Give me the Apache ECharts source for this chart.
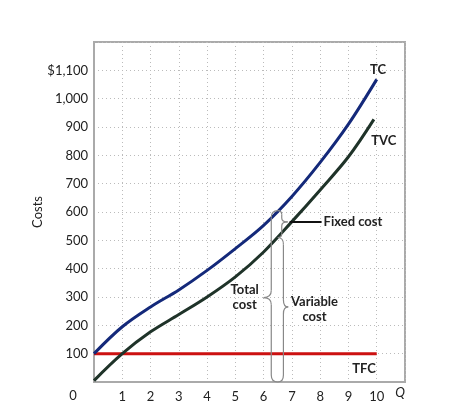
<!DOCTYPE html>
<html>
<head>
    <meta charset="utf-8">
    <title>Costs</title>
    <script type="text/javascript" src="https://cdn.jsdelivr.net/npm/echarts@6/dist/echarts.min.js"></script>
    <style>
        html, body { margin: 0; padding: 0; background: #fff; }
    </style>
</head>
<body>
<div id="main" style="width: 464px;height:419px;"></div>

<script type="text/javascript">
    // data
    var tcQ = [0, 1, 2, 3, 4, 5, 6, 7, 8, 9, 10];
    var tcCost = [100, 195, 265, 325, 394, 471, 553, 655, 775, 910, 1068];
    var tvcQ = [0, 1, 2, 3, 4, 5, 6, 7, 8, 9, 9.9];
    var tvcCost = [5, 100, 177, 238, 300, 371, 459, 566, 678, 795, 927];
    var tfcQ = [0, 10];
    var tfcCost = [100, 100];

    function pairs(xs, ys) {
        return xs.map(function (x, i) { return [x, ys[i]]; });
    }

    var FONT = 'Lato, "Open Sans", sans-serif';
    var chart = echarts.init(document.getElementById('main'));

    var option = {
        animation: false,
        grid: {
            left: 94, right: 59, top: 42, bottom: 37,
            show: true, borderColor: '#aaa', borderWidth: 2
        },
        xAxis: {
            type: 'value', min: 0, max: 11, interval: 1,
            axisLine: { show: true, lineStyle: { color: '#aaa', width: 2 } },
            axisTick: { show: false },
            splitLine: { lineStyle: { type: [1, 3], color: '#bbb' } },
            axisLabel: {
                margin: 8, color: '#222', fontSize: 13, fontFamily: FONT,
                formatter: function (v) { return (v === 0 || v === 11) ? '' : String(v); }
            }
        },
        yAxis: {
            type: 'value', min: 0, max: 1200, interval: 100,
            name: 'Costs', nameLocation: 'middle', nameGap: 50, nameRotate: 90,
            nameMoveOverlap: false,
            nameTextStyle: { color: '#222', fontSize: 13, fontFamily: FONT },
            axisLine: { show: true, lineStyle: { color: '#aaa', width: 2 } },
            axisTick: { show: false },
            splitLine: { lineStyle: { type: [1, 3], color: '#bbb' } },
            axisLabel: {
                margin: 6, color: '#222', fontSize: 13, fontFamily: FONT,
                formatter: function (v) {
                    if (v === 0 || v === 1200) return '';
                    if (v === 1100) return '$1,100';
                    if (v === 1000) return '1,000';
                    return String(v);
                }
            }
        },
        series: [
            {
                name: 'TFC', type: 'line', data: pairs(tfcQ, tfcCost), showSymbol: false,
                lineStyle: { color: '#cc1111', width: 3 }, z: 3
            },
            {
                name: 'TVC', type: 'line', data: pairs(tvcQ, tvcCost), showSymbol: false, smooth: 0.35,
                lineStyle: { color: '#1f3329', width: 3 }, z: 4
            },
            {
                name: 'TC', type: 'line', data: pairs(tcQ, tcCost), showSymbol: false, smooth: 0.35,
                lineStyle: { color: '#14297a', width: 3 }, z: 5
            }
        ]
    };
    chart.setOption(option);

    // annotations placed in data coordinates
    function px(q, v) { return chart.convertToPixel({ gridIndex: 0 }, [q, v]); }

    var BRACE = { fill: null, stroke: '#888', lineWidth: 1.2 };

    function curve(x1, y1, cx, cy, x2, y2) {
        return { type: 'bezierCurve', z: 10, shape: { x1: x1, y1: y1, cpx1: cx, cpy1: cy, x2: x2, y2: y2 }, style: BRACE };
    }
    function seg(x1, y1, x2, y2) {
        return { type: 'line', z: 10, shape: { x1: x1, y1: y1, x2: x2, y2: y2 }, style: BRACE };
    }

    // curly brace: attached at qA, spine at qV, tip at qT
    function braceAt(qA, qV, qT, vTop, vBot, vMid, r) {
        var a = px(qA, vTop)[0], top = px(qA, vTop)[1], bot = px(qA, vBot)[1];
        var vx = px(qV, vMid)[0], t = px(qT, vMid)[0], mid = px(qT, vMid)[1];
        return [
            curve(a, top, vx, top, vx, top + r),
            seg(vx, top + r, vx, mid - r),
            curve(vx, mid - r, vx, mid, t, mid),
            curve(t, mid, vx, mid, vx, mid + r),
            seg(vx, mid + r, vx, bot - r),
            curve(vx, bot - r, vx, bot, a, bot)
        ];
    }

    function label(q, v, txt, align, extra) {
        var p = px(q, v);
        var st = {
            text: txt, fill: '#222', font: 'bold 13px ' + FONT,
            textAlign: align || 'center', textVerticalAlign: 'middle'
        };
        for (var k in extra) st[k] = extra[k];
        return { type: 'text', x: p[0], y: p[1], z: 10, style: st };
    }

    var lineA = px(6.92, 565), lineB = px(8.05, 565);
    var origin = px(0, 0);

    var marks = [].concat(
        braceAt(6.5, 6.27, 6.0, 605, 0, 298, 7),
        braceAt(6.5, 6.7, 6.87, 510, 0, 265, 7),
        braceAt(6.5, 6.64, 6.85, 605, 510, 565, 4),
        [
            {
                type: 'line', z: 10,
                shape: { x1: lineA[0], y1: lineA[1], x2: lineB[0], y2: lineB[1] },
                style: { stroke: '#111', lineWidth: 2 }
            },
            label(8.12, 565, 'Fixed cost', 'left'),
            label(5.33, 300, 'Total\ncost', 'center', { lineHeight: 15 }),
            label(7.8, 256, 'Variable\ncost', 'center', { lineHeight: 15 }),
            label(10.05, 1103, 'TC'),
            label(10.25, 852, 'TVC'),
            label(9.55, 48, 'TFC'),
            {
                type: 'text', x: origin[0] - 21, y: origin[1] + 14, z: 10,
                style: { text: '0', fill: '#222', font: '13px ' + FONT, textAlign: 'center', textVerticalAlign: 'middle' }
            },
            {
                type: 'text', x: origin[0] + 306, y: origin[1] + 11, z: 10,
                style: { text: 'Q', fill: '#222', font: 'italic 13px ' + FONT, textAlign: 'center', textVerticalAlign: 'middle' }
            }
        ]
    );

    chart.setOption({ graphic: marks });
</script>
</body>
</html>
